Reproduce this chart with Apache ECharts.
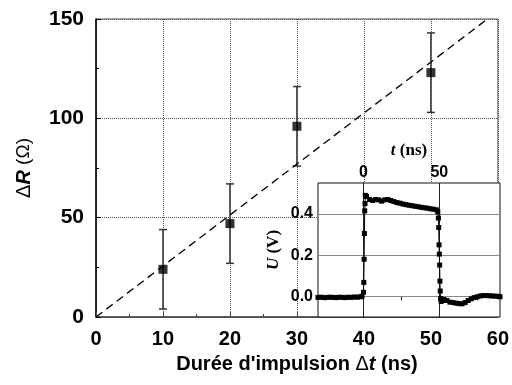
<!DOCTYPE html>
<html>
<head>
<meta charset="utf-8">
<script src="https://cdn.jsdelivr.net/npm/echarts@6/dist/echarts.min.js"></script>
<style>
  html, body { margin: 0; padding: 0; background: #fff; }
  #chart { width: 512px; height: 385px; }
</style>
</head>
<body>
<div id="chart"></div>
<script>
// main plot: resistance change vs pulse duration
var durations = [10, 20, 30, 50];
var deltaR = [24, 47, 96, 123];
var errR = [20, 20, 20, 20];
var fitX = [0, 60];
var fitY = [0, 154];

// inset: voltage pulse U(t)
var insetT = [-30, -28, -26, -24, -22, -20, -18, -16, -14, -12, -10, -8, -6, -4, -2, -1,
  0, 0.2, 0.4, 0.6, 0.8, 1.0, 1.2,
  2, 4, 6, 8, 10, 12, 14, 16, 18, 20, 22, 24, 26, 28, 30, 32, 34, 36, 38, 40, 42, 44, 46, 48, 49,
  49.4, 49.6, 49.8, 50.0, 50.2, 50.4, 50.6, 50.8, 51.2,
  52, 53, 55, 57, 59, 61, 63, 65, 67, 69, 71, 73, 75, 77, 79, 81, 83, 85, 87, 89, 90];
var insetU = [-0.005, -0.004, -0.006, -0.005, -0.004, -0.005, -0.006, -0.004, -0.005, -0.006, -0.004, -0.005, -0.003, -0.004, -0.002, 0.0,
  0.02, 0.068, 0.18, 0.305, 0.415, 0.45, 0.49,
  0.485, 0.47, 0.465, 0.47, 0.468, 0.462, 0.468, 0.47, 0.465, 0.46, 0.455, 0.452, 0.448, 0.445, 0.442, 0.44, 0.437, 0.435, 0.432, 0.43, 0.428, 0.425, 0.423, 0.42, 0.41,
  0.38, 0.334, 0.25, 0.205, 0.152, 0.074, 0.026, -0.01, -0.025,
  -0.02, -0.015, -0.02, -0.028, -0.03, -0.033, -0.035, -0.036, -0.03, -0.02, -0.012, -0.006, -0.002, 0.002, 0.004, 0.004, 0.003, 0.002, 0.001, 0.0, -0.002];

var xTicksInset = [0, 50];
var yTicksInset = [0, 0.2, 0.4];

var sans = 'Liberation Sans, Arial, sans-serif';
var serif = 'Liberation Serif, Times New Roman, serif';

var chart = echarts.init(document.getElementById('chart'));

function errorBar(params, api) {
  var x = api.value(0);
  var top = api.coord([x, api.value(2)]);
  var bot = api.coord([x, api.value(1)]);
  var cap = 4;
  var st = { stroke: '#333', lineWidth: 1.5 };
  return {
    type: 'group',
    children: [
      { type: 'line', shape: { x1: top[0], y1: top[1], x2: bot[0], y2: bot[1] }, style: st },
      { type: 'line', shape: { x1: top[0] - cap, y1: top[1], x2: top[0] + cap, y2: top[1] }, style: st },
      { type: 'line', shape: { x1: bot[0] - cap, y1: bot[1], x2: bot[0] + cap, y2: bot[1] }, style: st }
    ]
  };
}

var option = {
  animation: false,
  backgroundColor: '#fff',
  grid: [
    { left: 96, right: 12, top: 19, bottom: 68, show: true, borderColor: '#555', borderWidth: 1 },
    { left: 318, right: 12, top: 183, bottom: 68, show: true, backgroundColor: '#fff',
      borderColor: '#111', borderWidth: 1, z: 4 }
  ],
  xAxis: [
    {
      type: 'value', gridIndex: 0, min: 0, max: 60, interval: 10,
      axisLine: { lineStyle: { color: '#444', width: 1.5 } },
      axisTick: { inside: true, length: 5, lineStyle: { color: '#444' } },
      minorTick: { show: true, splitNumber: 2, length: 3, lineStyle: { color: '#444' } },
      splitLine: { show: true, lineStyle: { type: [1, 1], color: '#555', width: 1 } },
      axisLabel: { color: '#000', fontFamily: sans, fontWeight: 'bold', fontSize: 20, margin: 12 },
      name: '{b|Durée d\'impulsion }{d|Δ}{i|t}{b| (ns)}',
      nameLocation: 'middle', nameGap: 37,
      nameTextStyle: {
        rich: {
          b: { fontFamily: sans, fontWeight: 'bold', fontSize: 20, color: '#000' },
          d: { fontFamily: sans, fontWeight: 'normal', fontSize: 20, color: '#000' },
          i: { fontFamily: sans, fontWeight: 'bold', fontStyle: 'italic', fontSize: 20, color: '#000' }
        }
      }
    },
    {
      type: 'value', gridIndex: 1, position: 'top', min: -30, max: 90, z: 5,
      axisLine: { lineStyle: { color: '#111' } },
      axisTick: { inside: true, length: 4, customValues: [-25, 0, 25, 50, 75], lineStyle: { color: '#111' } },
      splitLine: { show: false },
      axisLabel: { customValues: xTicksInset, color: '#000', fontFamily: sans, fontWeight: 'bold', fontSize: 16, margin: 2 },
      name: '{i|t}{b| (ns)}',
      nameLocation: 'middle', nameGap: 24,
      nameTextStyle: {
        rich: {
          i: { fontFamily: serif, fontWeight: 'bold', fontStyle: 'italic', fontSize: 17, color: '#000' },
          b: { fontFamily: serif, fontWeight: 'bold', fontSize: 17, color: '#000' }
        }
      }
    }
  ],
  yAxis: [
    {
      type: 'value', gridIndex: 0, min: 0, max: 150, interval: 50,
      axisLine: { lineStyle: { color: '#000', width: 1.5 } },
      axisTick: { inside: true, length: 5, lineStyle: { color: '#000' } },
      minorTick: { show: true, splitNumber: 2, length: 3, lineStyle: { color: '#000' } },
      splitLine: { show: true, lineStyle: { type: [1, 1], color: '#555', width: 1 } },
      axisLabel: { color: '#000', fontFamily: sans, fontWeight: 'bold', fontSize: 21, margin: 12 },
      name: '{d|Δ}{i|R}{n| (Ω)}',
      nameLocation: 'middle', nameGap: 62, nameRotate: 90,
      nameTextStyle: {
        rich: {
          d: { fontFamily: sans, fontWeight: 'normal', fontSize: 20, color: '#000' },
          i: { fontFamily: sans, fontWeight: 'bold', fontStyle: 'italic', fontSize: 20, color: '#000' },
          n: { fontFamily: sans, fontWeight: 'normal', fontSize: 19, color: '#000' }
        }
      }
    },
    {
      type: 'value', gridIndex: 1, min: -0.1, max: 0.55, z: 5,
      axisLine: { lineStyle: { color: '#111' } },
      axisTick: { inside: false, length: 3, customValues: yTicksInset, lineStyle: { color: '#111' } },
      splitLine: { show: false },
      axisLabel: {
        customValues: yTicksInset, color: '#000', fontFamily: sans, fontWeight: 'bold', fontSize: 16, margin: 5,
        formatter: function (v) { return v.toFixed(1); }
      },
      name: '{i|U}{b| (V)}',
      nameLocation: 'middle', nameGap: 36, nameRotate: 90,
      nameTextStyle: {
        rich: {
          i: { fontFamily: serif, fontWeight: 'bold', fontStyle: 'italic', fontSize: 17, color: '#000' },
          b: { fontFamily: serif, fontWeight: 'bold', fontSize: 17, color: '#000' }
        }
      }
    }
  ],
  series: [
    {
      type: 'line', xAxisIndex: 0, yAxisIndex: 0,
      data: fitX.map(function (x, i) { return [x, fitY[i]]; }),
      symbol: 'none', clip: true,
      lineStyle: { color: '#000', width: 1.3, type: [8, 5] }
    },
    {
      type: 'custom', xAxisIndex: 0, yAxisIndex: 0,
      renderItem: errorBar,
      encode: { x: 0, y: [1, 2] },
      data: durations.map(function (d, i) { return [d, deltaR[i] - errR[i], deltaR[i] + errR[i]]; }),
      z: 3
    },
    {
      type: 'scatter', xAxisIndex: 0, yAxisIndex: 0,
      data: durations.map(function (d, i) { return [d, deltaR[i]]; }),
      symbol: 'rect', symbolSize: 9,
      itemStyle: { color: '#000' },
      z: 4
    },
    {
      type: 'line', xAxisIndex: 1, yAxisIndex: 1,
      data: insetT.map(function (t, i) { return [t, insetU[i]]; }),
      symbol: 'rect', symbolSize: 5, showAllSymbol: true,
      itemStyle: { color: '#000' },
      lineStyle: { color: '#000', width: 1 },
      z: 10,
      markLine: {
        silent: true, symbol: ['none', 'none'], label: { show: false }, z: 6,
        lineStyle: { type: 'solid', color: '#888', width: 1.2 },
        emphasis: { disabled: true },
        data: yTicksInset.map(function (v) { return { yAxis: v }; }).concat(
          xTicksInset.map(function (v) { return { xAxis: v, lineStyle: { color: '#222', type: 'solid', width: 1 } }; })
        )
      }
    }
  ]
};

chart.setOption(option);
</script>
</body>
</html>
